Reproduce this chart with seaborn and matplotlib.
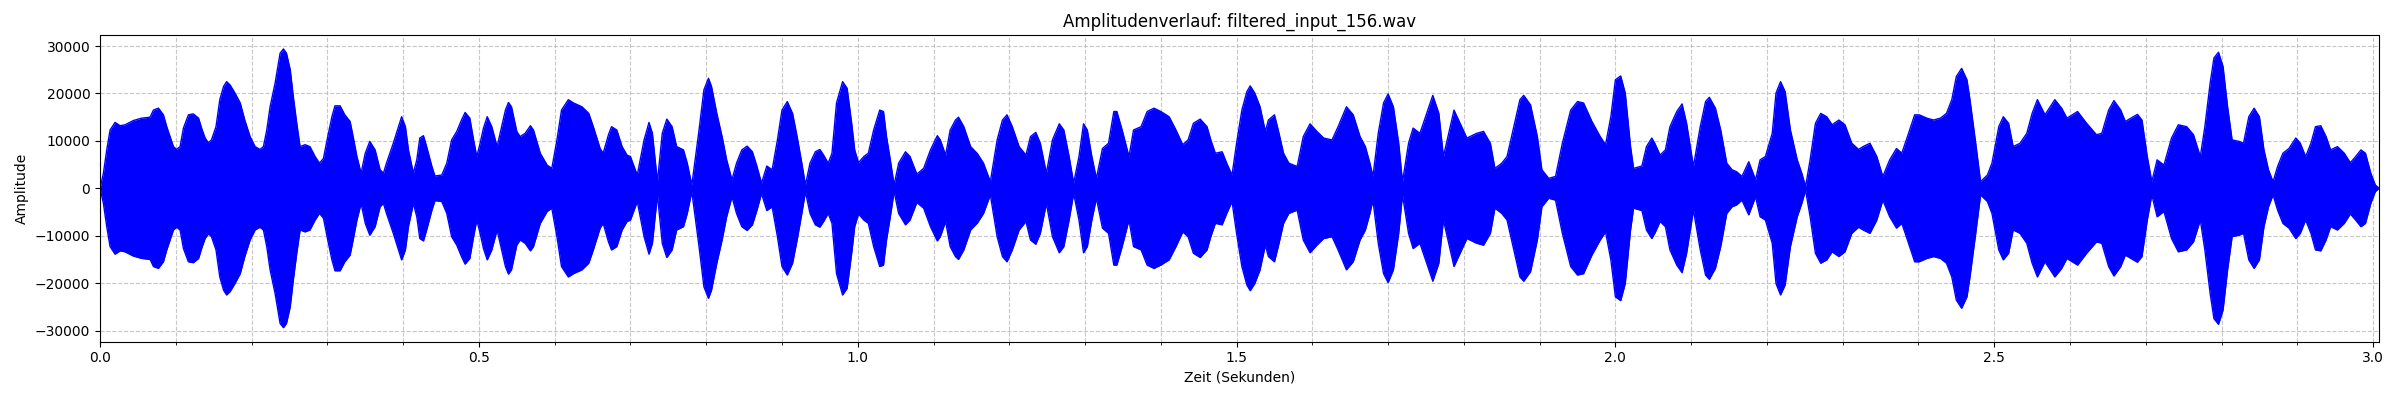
import numpy as np
import matplotlib
matplotlib.use("Agg")
import matplotlib.pyplot as plt
from matplotlib.ticker import MultipleLocator
import seaborn as sns

# envelope of the waveform (seconds, peak amplitude)
time_s = [
    0.000, 0.0044, 0.0088, 0.0132, 0.0198, 0.0264, 0.033, 0.044, 0.055, 0.066,
    0.0704, 0.077, 0.0836, 0.088, 0.0924, 0.0968, 0.101, 0.1056, 0.110, 0.1166,
    0.123, 0.130, 0.134, 0.1386, 0.143, 0.147, 0.153, 0.158, 0.163, 0.167,
    0.1716, 0.178, 0.185, 0.191, 0.198, 0.2046, 0.211, 0.2156, 0.220, 0.2244,
    0.231, 0.2376, 0.242, 0.246, 0.251, 0.255, 0.2596, 0.264, 0.2706, 0.277,
    0.2838, 0.2895, 0.2948, 0.301, 0.306, 0.310, 0.3168, 0.323, 0.330, 0.334,
    0.339, 0.3445, 0.350, 0.356, 0.363, 0.3696, 0.374, 0.378, 0.387, 0.398,
    0.403, 0.407, 0.4135, 0.418, 0.422, 0.4268, 0.431, 0.438, 0.442, 0.451,
    0.4576, 0.464, 0.4708, 0.477, 0.4818, 0.488, 0.493, 0.4972, 0.5016, 0.506,
    0.511, 0.517, 0.524, 0.528, 0.535, 0.539, 0.543, 0.550, 0.5544, 0.561,
    0.568, 0.572, 0.581, 0.590, 0.5962, 0.603, 0.609, 0.618, 0.625, 0.636,
    0.645, 0.651, 0.660, 0.664, 0.671, 0.675, 0.682, 0.689, 0.6955, 0.700,
    0.709, 0.718, 0.7245, 0.729, 0.7356, 0.742, 0.748, 0.755, 0.761, 0.770,
    0.775, 0.781, 0.790, 0.797, 0.803, 0.807, 0.814, 0.821, 0.827, 0.834,
    0.840, 0.847, 0.854, 0.861, 0.867, 0.873, 0.880, 0.887, 0.894, 0.900,
    0.907, 0.914, 0.920, 0.926, 0.931, 0.937, 0.944, 0.950, 0.955, 0.961,
    0.966, 0.972, 0.980, 0.986, 0.992, 0.996, 1.001, 1.008, 1.014, 1.021,
    1.029, 1.034, 1.038, 1.043, 1.048, 1.054, 1.063, 1.069, 1.078, 1.087,
    1.096, 1.105, 1.109, 1.116, 1.122, 1.129, 1.133, 1.140, 1.149, 1.158,
    1.166, 1.175, 1.184, 1.191, 1.197, 1.204, 1.213, 1.222, 1.228, 1.235,
    1.241, 1.249, 1.257, 1.266, 1.272, 1.279, 1.285, 1.292, 1.298, 1.303,
    1.309, 1.315, 1.323, 1.331, 1.338, 1.342, 1.349, 1.358, 1.364, 1.374,
    1.382, 1.391, 1.400, 1.411, 1.420, 1.429, 1.436, 1.443, 1.452, 1.461,
    1.466, 1.472, 1.481, 1.487, 1.494, 1.500, 1.507, 1.5136, 1.518, 1.524,
    1.531, 1.538, 1.542, 1.550, 1.555, 1.562, 1.569, 1.580, 1.588, 1.597,
    1.606, 1.615, 1.626, 1.634, 1.645, 1.654, 1.663, 1.670, 1.676, 1.680,
    1.687, 1.694, 1.700, 1.707, 1.714, 1.719, 1.727, 1.733, 1.742, 1.751,
    1.759, 1.767, 1.773, 1.780, 1.787, 1.795, 1.804, 1.817, 1.826, 1.835,
    1.841, 1.850, 1.857, 1.866, 1.874, 1.879, 1.888, 1.897, 1.903, 1.912,
    1.921, 1.930, 1.941, 1.950, 1.958, 1.969, 1.980, 1.987, 1.994, 2.000,
    2.007, 2.013, 2.020, 2.024, 2.035, 2.041, 2.048, 2.052, 2.059, 2.066,
    2.072, 2.081, 2.088, 2.094, 2.103, 2.112, 2.119, 2.124, 2.132, 2.139,
    2.147, 2.154, 2.160, 2.167, 2.176, 2.185, 2.191, 2.198, 2.207, 2.212,
    2.218, 2.224, 2.231, 2.240, 2.246, 2.251, 2.257, 2.264, 2.271, 2.279,
    2.286, 2.295, 2.303, 2.312, 2.321, 2.327, 2.336, 2.345, 2.353, 2.362,
    2.371, 2.378, 2.384, 2.395, 2.401, 2.411, 2.420, 2.429, 2.437, 2.444,
    2.450, 2.457, 2.464, 2.468, 2.475, 2.482, 2.491, 2.497, 2.506, 2.512,
    2.519, 2.525, 2.534, 2.543, 2.550, 2.557, 2.567, 2.580, 2.589, 2.596,
    2.610, 2.622, 2.635, 2.642, 2.651, 2.658, 2.667, 2.673, 2.689, 2.695,
    2.702, 2.708, 2.715, 2.724, 2.734, 2.743, 2.754, 2.763, 2.772, 2.778,
    2.785, 2.790, 2.796, 2.802, 2.808, 2.814, 2.823, 2.829, 2.836, 2.843,
    2.850, 2.856, 2.862, 2.868, 2.874, 2.881, 2.889, 2.898, 2.904, 2.911,
    2.918, 2.924, 2.931, 2.938, 2.944, 2.953, 2.962, 2.970, 2.977, 2.984,
    2.990, 2.997, 3.003, 3.008,
]
envelope = [
    0, 3200, 8100, 12300, 13900, 13200, 13400, 14300, 14800, 15000,
    16500, 16900, 15500, 13000, 10900, 8800, 8200, 8800, 12700, 15500,
    15700, 14800, 12700, 10600, 9600, 10200, 13000, 18700, 21500, 22500,
    21800, 20100, 18000, 14400, 10900, 8800, 8200, 8800, 12300, 17200,
    22200, 28500, 29400, 28500, 25000, 19400, 13700, 8800, 9200, 8800,
    6700, 5300, 6300, 11300, 15100, 17400, 17400, 15500, 14100, 10900,
    6700, 3200, 7400, 9900, 8100, 3900, 3200, 5300, 9500, 15100,
    13000, 8100, 3200, 6000, 10600, 11100, 8800, 4600, 2600, 2800,
    5300, 10200, 12000, 14400, 16000, 14800, 10200, 6700, 9500, 12700,
    15100, 13000, 8800, 11600, 16500, 18100, 17200, 12000, 10900, 11600,
    13200, 12300, 7400, 4900, 4200, 10200, 16500, 18700, 18000, 17200,
    15800, 13000, 8400, 7400, 11300, 13000, 12300, 8800, 7000, 6700,
    2800, 10200, 13900, 11600, 1400, 11600, 14600, 13000, 8800, 8100,
    5300, 700, 11600, 20800, 23200, 21500, 15800, 10900, 6000, 1800,
    5300, 8100, 8900, 7700, 4600, 1100, 4700, 3900, 10200, 16500,
    18300, 15800, 10900, 5500, 700, 5300, 7700, 8200, 7000, 5300,
    7400, 18000, 22500, 21100, 13700, 8100, 5400, 6700, 7400, 12300,
    16500, 16200, 10900, 6000, 700, 5300, 7700, 6700, 3000, 4200,
    8100, 11100, 10200, 7000, 12300, 14400, 15000, 13000, 8800, 7300,
    5300, 1400, 10200, 14400, 15500, 13000, 8800, 7000, 10900, 11800,
    9500, 3200, 10200, 13600, 12300, 6700, 1100, 6700, 13600, 12300,
    6700, 2100, 8400, 9500, 16200, 16200, 12300, 6700, 12300, 13000,
    16200, 16900, 16200, 15100, 12300, 9200, 10200, 13700, 14600, 13000,
    10200, 7400, 7700, 5300, 2800, 9500, 16500, 20400, 21600, 20100,
    17200, 12000, 14400, 15500, 12300, 7400, 5300, 4600, 10900, 13600,
    12000, 10600, 10200, 13000, 17200, 15500, 10900, 8800, 5300, 2500,
    11600, 18000, 19900, 17200, 9500, 1400, 9500, 12700, 11600, 15800,
    19600, 15800, 6700, 11600, 16500, 13700, 10600, 11600, 12000, 9500,
    4200, 5300, 6700, 13000, 18700, 19600, 17600, 10900, 3900, 2100,
    2500, 9500, 16500, 18300, 18000, 14100, 10900, 9200, 15100, 22900,
    23700, 20100, 8800, 4200, 4700, 8800, 10600, 9500, 7000, 8100,
    13000, 16200, 17800, 13700, 4600, 13000, 18300, 19200, 16900, 12300,
    5300, 3900, 3500, 2500, 5600, 1800, 6000, 6700, 11600, 20100,
    22500, 20400, 12300, 6000, 3200, 400, 6000, 13700, 15800, 15100,
    13400, 14400, 13400, 9500, 8200, 8800, 9500, 6700, 2500, 6000,
    8400, 7400, 10200, 15500, 15500, 14800, 14400, 14800, 15800, 18700,
    23600, 25300, 22900, 18700, 10200, 1400, 2800, 5300, 13000, 15100,
    13700, 8800, 9500, 11600, 15800, 18700, 15500, 18700, 16900, 14800,
    16200, 13700, 11300, 11600, 16500, 18500, 16500, 14100, 15600, 14400,
    6700, 1400, 6000, 4900, 10600, 13400, 13000, 11300, 6700, 13000,
    22200, 27500, 28700, 25700, 17200, 10200, 9900, 9500, 15100, 16900,
    15100, 8100, 3900, 1400, 4600, 7400, 8400, 10600, 9500, 6700,
    9500, 13000, 13200, 10900, 8100, 8800, 7400, 5400, 6700, 8100,
    7400, 3200, 700, 0,
]

title = "Amplitudenverlauf: filtered_input_156.wav"
duration = 3.008

t = np.array(time_s)
env = np.array(envelope)

fig, ax = plt.subplots(figsize=(24, 4), dpi=100)
# fill on top of the grid, like a dense line plot would be
ax.fill_between(t, -env, env, color='blue', linewidth=0, zorder=2)
sns.lineplot(x=t, y=env, color='blue', linewidth=1, ax=ax, estimator=None, zorder=2)
sns.lineplot(x=t, y=-env, color='blue', linewidth=1, ax=ax, estimator=None, zorder=2)

ax.set_xlim(0, duration)
ax.xaxis.set_major_locator(MultipleLocator(0.5))
ax.xaxis.set_minor_locator(MultipleLocator(0.1))
ax.grid(True, which='both', linestyle='--', alpha=0.7, zorder=1)
ax.set_axisbelow(True)
ax.set_title(title)
ax.set_xlabel('Zeit (Sekunden)')
ax.set_ylabel('Amplitude')

plt.subplots_adjust(left=0.0417, right=0.9913, top=0.9125, bottom=0.146)
fig.savefig('out.png')
